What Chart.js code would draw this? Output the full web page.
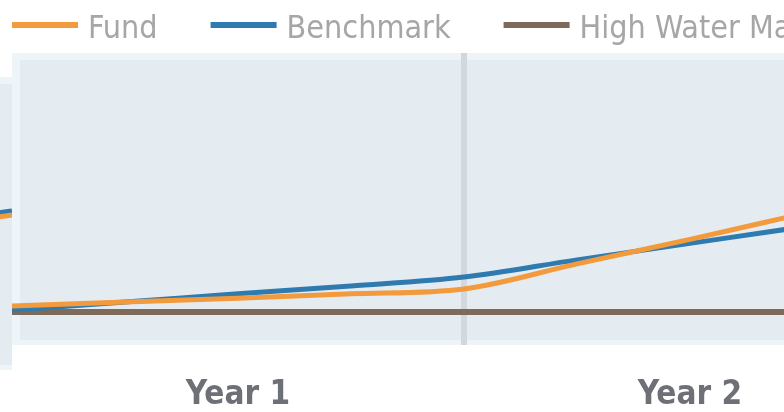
<!DOCTYPE html>
<html>
<head>
<meta charset="utf-8">
<script src="https://cdn.jsdelivr.net/npm/chart.js@4.4.1/dist/chart.umd.min.js"></script>
<style>
  html, body { margin: 0; padding: 0; background: #fff; overflow: hidden; }
  #stage { position: relative; width: 784px; height: 412px; overflow: hidden; }
  #prevChart { position: absolute; left: -188px; top: 0; }
  #growthChart { position: absolute; left: 0; top: 0; }
</style>
</head>
<body>
<div id="stage">
  <canvas id="prevChart" width="200" height="412"></canvas>
  <canvas id="growthChart" width="784" height="412"></canvas>
</div>
<script>
// Growth of 100 over the holding period, sampled each quarter
const yearLabels = ['Year 1', 'Year 2'];
const quarterPos = [0, 0.25, 0.5, 0.75, 1, 1.25, 1.5, 1.75, 2];
const fundValues = [101.8, 103.0, 104.2, 105.5, 107.0, 114.6, 122.0, 129.8, 137.6];
const benchmarkValues = [100.6, 103.0, 105.5, 107.9, 110.6, 115.8, 120.8, 125.8, 130.6];
const highWaterValues = [100, 100, 100, 100, 100, 100, 100, 100, 100];

// Tail end of the previous period's panel
const prevPos = [0, 0.5, 1];
const prevFund = [128.0, 135.5, 140.3];
const prevBenchmark = [130.0, 137.0, 141.6];

const COLORS = {
    fund: '#f39a3c',
    benchmark: '#2f7bb0',
    highWater: '#7d6a5a'
};
const LEGEND_FONT = "'DejaVu Sans Condensed', 'DejaVu Sans', sans-serif";
const AXIS_FONT = "'DejaVu Sans Condensed', 'DejaVu Sans', sans-serif";

const toPoints = (xs, ys) => xs.map((x, i) => ({ x, y: ys[i] }));

// shaded plot area with a pale frame
const plotBackground = {
    id: 'plotBackground',
    beforeDraw(chart) {
        const { ctx, chartArea: a } = chart;
        ctx.save();
        ctx.fillStyle = '#eef5f9';
        ctx.fillRect(a.left, a.top, a.right - a.left, a.bottom - a.top);
        ctx.fillStyle = '#e4ecf2';
        ctx.fillRect(a.left + 8, a.top + 7, a.right - a.left - 8, a.bottom - a.top - 12);
        ctx.restore();
    }
};

// line-swatch legend across the top
const lineLegend = {
    id: 'lineLegend',
    afterDraw(chart) {
        const { ctx } = chart;
        let x = 12;
        ctx.save();
        ctx.font = '32px ' + LEGEND_FONT;
        ctx.textBaseline = 'alphabetic';
        chart.data.datasets.forEach(ds => {
            ctx.fillStyle = ds.borderColor;
            ctx.fillRect(x, 22, 66, 6);
            ctx.fillStyle = '#a6a6a6';
            ctx.fillText(ds.label, x + 76, 38);
            x += 76 + ctx.measureText(ds.label).width + 53;
        });
        ctx.restore();
    }
};

const lineStyle = {
    fill: false,
    pointRadius: 0,
    borderWidth: 5,
    cubicInterpolationMode: 'monotone'
};

new Chart(document.getElementById('growthChart'), {
    type: 'line',
    data: {
        datasets: [
            { ...lineStyle, label: 'Fund', data: toPoints(quarterPos, fundValues), borderColor: COLORS.fund },
            { ...lineStyle, label: 'Benchmark', data: toPoints(quarterPos, benchmarkValues), borderColor: COLORS.benchmark },
            { ...lineStyle, label: 'High Water Mark', data: toPoints(quarterPos, highWaterValues), borderColor: COLORS.highWater, borderWidth: 6 }
        ]
    },
    options: {
        responsive: false,
        animation: false,
        layout: { autoPadding: false, padding: { top: 53, left: 12, right: 0, bottom: 0 } },
        plugins: {
            legend: { display: false },
            tooltip: { enabled: false }
        },
        scales: {
            x: {
                type: 'linear',
                min: 0,
                max: 772 / 452,
                border: { display: false },
                grid: {
                    drawTicks: false,
                    lineWidth: 6,
                    color: ctx => (ctx.tick && ctx.tick.value === 1) ? '#d3d8df' : 'transparent'
                },
                ticks: {
                    stepSize: 0.5,
                    includeBounds: false,
                    autoSkip: false,
                    maxRotation: 0,
                    padding: 31,
                    color: '#6d7076',
                    font: { family: AXIS_FONT, size: 33, weight: 'bold' },
                    callback: v => (v % 1 === 0.5) ? yearLabels[Math.floor(v)] : ''
                },
                afterFit(scale) {
                    scale.paddingLeft = 0;
                    scale.paddingRight = 0;
                    scale.height = 67;
                }
            },
            y: {
                display: false,
                min: 90,
                max: 178.5
            }
        }
    },
    plugins: [plotBackground, lineLegend]
});

new Chart(document.getElementById('prevChart'), {
    type: 'line',
    data: {
        datasets: [
            { ...lineStyle, label: 'Fund', data: toPoints(prevPos, prevFund), borderColor: COLORS.fund },
            { ...lineStyle, label: 'Benchmark', data: toPoints(prevPos, prevBenchmark), borderColor: COLORS.benchmark }
        ]
    },
    options: {
        responsive: false,
        animation: false,
        layout: { autoPadding: false, padding: { top: 77, left: 0, right: 0, bottom: 42 } },
        plugins: {
            legend: { display: false },
            tooltip: { enabled: false }
        },
        scales: {
            x: { type: 'linear', display: false, min: 0, max: 1 },
            y: { display: false, min: 90, max: 185 }
        }
    },
    plugins: [plotBackground]
});
</script>
</body>
</html>
